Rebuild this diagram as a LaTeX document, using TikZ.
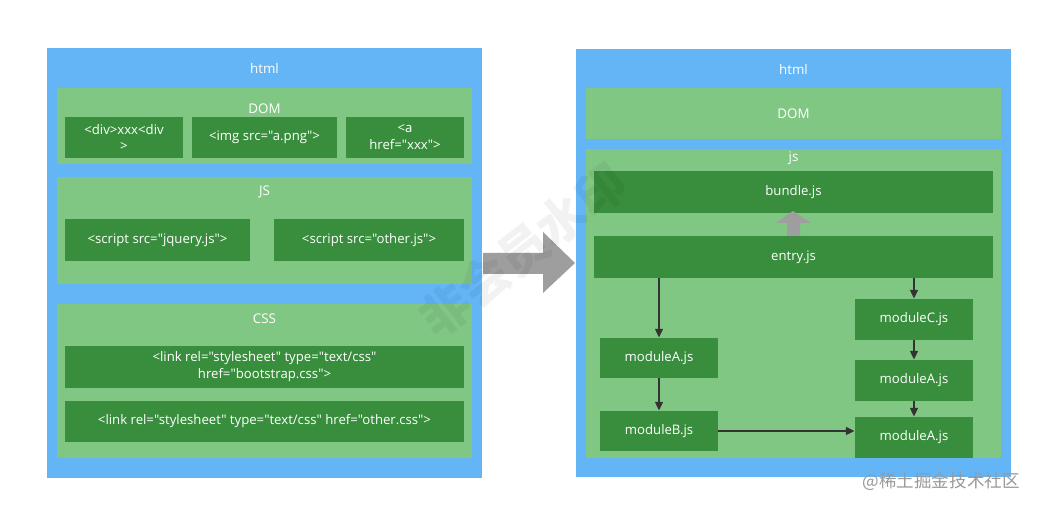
\documentclass[tikz,border=0pt]{standalone}
\usepackage{fontspec}
\setmainfont{Open Sans}[Ligatures=TeXOff]
\newfontfamily\cjk{Noto Sans CJK SC}
\usetikzlibrary{fit, arrows.meta, positioning}

\definecolor{htmlblue}{HTML}{64B5F6}
\definecolor{partgreen}{HTML}{81C784}
\definecolor{taggreen}{HTML}{388E3C}
\definecolor{bigarrow}{HTML}{9E9E9E}
\definecolor{depline}{HTML}{333333}

\tikzset{
  htmlbox/.style={fill=htmlblue, inner sep=0pt},
  partbox/.style={fill=partgreen, inner sep=0pt},
  tagbox/.style={fill=taggreen, inner sep=0pt},
  tagtext/.style={text=white, align=center, inner sep=0pt,
    font=\fontsize{7.5}{9.6}\selectfont},
  boxtitle/.style={text=white, font=\fontsize{7.6}{9}\selectfont},
  dep/.style={draw=depline, line width=1.1pt, -{Triangle[length=5pt, width=4.4pt]}}
}

\begin{document}
\begin{tikzpicture}[x=0.02cm, y=-0.02cm]

    % =================================================================
    % 1. KHUNG VÀ NỀN
    % =================================================================
    \useasboundingbox[fill=white] (0,0) rectangle (1042,509);

    % =================================================================
    % 2. BÊN TRÁI: HTML VỚI DOM, JS, CSS
    % =================================================================
    \node[htmlbox, fit={(47,48) (482,478)}] (lhtml) {};
    \node[boxtitle] (lhtmltitle) at (264.5,68) {html};

    \node[partbox, fit={(57,88) (472,164)}] (ldom) {};
    \node[boxtitle] (ldomtitle) at (264.5,109) {DOM};
    \node[tagbox, fit={(65,117) (183,158)},
        label={[tagtext]center:<div>xxx<div\\>}] (tagdiv) {};
    \node[tagbox, fit={(192,117) (337,158)},
        label={[tagtext]center:<img src="a.png">}] (tagimg) {};
    \node[tagbox, fit={(346,117) (464,158)},
        label={[tagtext]center:<a\\href="xxx">}] (taga) {};

    \node[partbox, fit={(57,177) (472,284)}] (ljs) {};
    \node[boxtitle] (ljstitle) at (264.5,192) {JS};
    \node[tagbox, fit={(65,219) (250,261)},
        label={[tagtext]center:<script src="jquery.js">}] (jquery) {};
    \node[tagbox, fit={(274,219) (464,261)},
        label={[tagtext]center:<script src="other.js">}] (otherjs) {};

    \node[partbox, fit={(57,304) (472,458)}] (lcss) {};
    \node[boxtitle] (lcsstitle) at (264.5,319) {CSS};
    \node[tagbox, fit={(65,346) (464,388)},
        label={[tagtext]center:<link rel="stylesheet" type="text/css"\\href="bootstrap.css">}] (bootcss) {};
    \node[tagbox, fit={(65,401) (464,442)},
        label={[tagtext]center:<link rel="stylesheet" type="text/css" href="other.css">}] (othercss) {};

    % Mũi tên lớn ở giữa
    \fill[bigarrow] (483,253) -- (543,253) -- (543,232) -- (575,263)
        -- (543,293) -- (543,274) -- (483,274) -- cycle;

    % =================================================================
    % 3. BÊN PHẢI: HTML VỚI DOM VÀ JS ĐÃ ĐÓNG GÓI
    % =================================================================
    \node[htmlbox, fit={(576,49) (1011,477)}] (rhtml) {};
    \node[boxtitle] (rhtmltitle) at (793.5,69) {html};

    \node[partbox, fit={(586,88) (1001,139)}] (rdom) {};
    \node[boxtitle] (rdomtitle) at (rdom.center) {DOM};

    \node[partbox, fit={(586,149) (1001,458)}] (rjs) {};
    \node[boxtitle] (rjstitle) at (793.5,158) {js};

    \node[tagbox, fit={(594,171) (993,213)},
        label={[tagtext]center:bundle.js}] (bundle) {};
    \node[tagbox, fit={(594,236) (993,278)},
        label={[tagtext]center:entry.js}] (entry) {};

    % Mũi tên xám đi lên
    \fill[bigarrow] (793,211) -- (811,223) -- (800,223) -- (800,236)
        -- (787,236) -- (787,223) -- (776,223) -- cycle;

    \node[tagbox, fit={(600,338) (718,378)},
        label={[tagtext]center:moduleA.js}] (modA) {};
    \node[tagbox, fit={(600,411) (718,451)},
        label={[tagtext]center:moduleB.js}] (modB) {};
    \node[tagbox, fit={(855,299) (973,340)},
        label={[tagtext]center:moduleC.js}] (modC) {};
    \node[tagbox, fit={(855,360) (973,401)},
        label={[tagtext]center:moduleA.js}] (modCA) {};
    \node[tagbox, fit={(855,417) (973,458)},
        label={[tagtext]center:moduleA.js}] (modBA) {};

    % Các mũi tên phụ thuộc
    \draw[dep] (entry.south -| modA) -- (modA.north);
    \draw[dep] (modA) -- (modB);
    \draw[dep] (entry.south -| modC) -- (modC.north);
    \draw[dep] (modC) -- (modCA);
    \draw[dep] (modCA) -- (modBA);
    \draw[dep] (modB.east) -- (modB.east -| modBA.west);

    % =================================================================
    % 4. HÌNH MỜ
    % =================================================================
    \node[text=black, opacity=0.05, rotate=38, font=\cjk\bfseries\fontsize{28}{28}\selectfont]
        (faintmark) at (523,250) {非会员水印};
    \node[text=gray!80, font=\cjk\fontsize{10}{12}\selectfont, anchor=east]
        (sitemark) at (1026,482) {@稀土掘金技术社区};

\end{tikzpicture}
\end{document}
